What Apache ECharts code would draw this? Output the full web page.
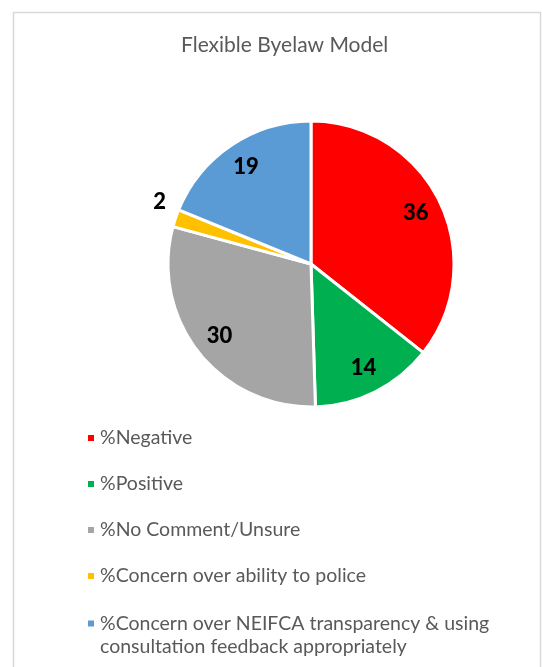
<!DOCTYPE html>
<html>
<head>
<meta charset="utf-8">
<script src="https://cdn.jsdelivr.net/npm/echarts@6/dist/echarts.min.js"></script>
<style>
  html, body { margin: 0; padding: 0; background: #fff; }
  #chart { width: 542px; height: 667px; }
</style>
</head>
<body>
<div id="chart"></div>
<script>
const titleText = 'Flexible Byelaw Model';
const categories = [
  '%Negative',
  '%Positive',
  '%No Comment/Unsure',
  '%Concern over ability to police',
  '%Concern over NEIFCA transparency & using consultation feedback appropriately'
];
const values = [36, 14, 30, 2, 19];
const colors = ['#FF0000', '#00B050', '#A5A5A5', '#FFC000', '#5B9BD5'];

const FONT = 'Lato';
const chart = echarts.init(document.getElementById('chart'), null, { renderer: 'canvas' });

const pieData = categories.map((name, i) => ({ name, value: values[i], itemStyle: { color: colors[i] } }));
const labelData = categories.map((name, i) => {
  const d = { name, value: values[i] };
  if (values[i] < 5) {
    d.label = { position: 'outside' };
    d.labelLine = { show: false, length: 8, length2: 0 };
  }
  return d;
});

const legendText = { fontFamily: FONT, fontSize: 19.5, color: '#595959', lineHeight: 22 };

chart.setOption({
  animation: false,
  color: colors,
  title: {
    text: titleText,
    left: 176,
    top: 30,
    textStyle: { fontFamily: FONT, fontSize: 21, fontWeight: 'normal', color: '#595959' }
  },
  graphic: [{
    type: 'rect',
    shape: { x: 13.5, y: 12.5, width: 527, height: 700 },
    style: { fill: 'none', stroke: '#D9D9D9', lineWidth: 1.5 },
    silent: true
  }],
  legend: [{
    orient: 'vertical',
    left: 81,
    top: 422,
    itemWidth: 8,
    itemHeight: 8,
    itemGap: 24,
    icon: 'rect',
    data: categories.slice(0, 4),
    textStyle: legendText,
    selectedMode: false
  }, {
    orient: 'vertical',
    left: 81,
    top: 584,
    itemWidth: 8,
    itemHeight: 8,
    icon: 'rect',
    data: categories.slice(4),
    formatter: n => '\n' + n.replace(' consultation', '\nconsultation'),
    textStyle: Object.assign({}, legendText, { lineHeight: 23 }),
    selectedMode: false
  }],
  series: [{
    type: 'pie',
    center: [311, 264],
    radius: [0, 143],
    startAngle: 90,
    clockwise: true,
    data: pieData,
    label: { show: false },
    labelLine: { show: false },
    itemStyle: { borderColor: '#FFFFFF', borderWidth: 3 },
    emphasis: { disabled: true }
  }, {
    type: 'pie',
    center: [311, 264],
    radius: [84, 143],
    startAngle: 90,
    clockwise: true,
    silent: true,
    data: labelData,
    avoidLabelOverlap: false,
    itemStyle: { color: 'rgba(0,0,0,0)', borderWidth: 0 },
    label: {
      show: true,
      position: 'inside',
      formatter: '{c}',
      fontFamily: FONT,
      fontSize: 22,
      fontWeight: 900,
      color: '#000000'
    },
    labelLine: { show: false },
    labelLayout: p => (p.dataIndex === 3 ? { dx: 3, dy: -14 } : {}),
    emphasis: { disabled: true }
  }]
});
</script>
</body>
</html>
